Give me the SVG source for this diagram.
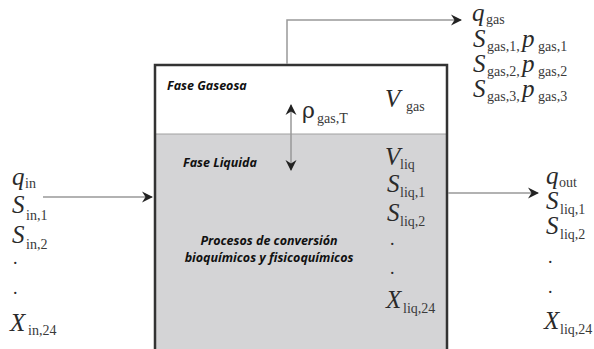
<svg xmlns="http://www.w3.org/2000/svg" width="594" height="349" viewBox="0 0 594 349">
<defs>
<marker id="ah" markerUnits="userSpaceOnUse" markerWidth="12" markerHeight="12" refX="10" refY="6" orient="auto-start-reverse" viewBox="0 0 12 12">
<path d="M0,0.5 L11,6 L0,11.5 L3.5,6 z" fill="#222"/>
</marker>
<style>
.m{font-family:"Liberation Serif",serif;font-style:italic;font-size:25px;fill:#2a2a2a}
.d{font-family:"Liberation Serif",serif;font-size:18px;fill:#2a2a2a}
.s{font-family:"Liberation Serif",serif;font-style:normal;font-size:14px;fill:#3a3a3a}
.lab{font-family:"Open Sans",sans-serif;font-style:italic;font-weight:bold;font-size:12.5px;fill:#111}
.conn{stroke:#999;stroke-width:1.5;fill:none}
.rho{font-family:"DejaVu Serif",serif;font-size:22px;fill:#2a2a2a}
</style>
</defs>
<g id="tank">
<rect x="155" y="65" width="292" height="300" fill="#fff"/>
<rect x="155" y="134" width="292" height="231" fill="#d4d4d6"/>
<line x1="155" y1="134" x2="447" y2="134" stroke="#a0a0a0" stroke-width="1"/>
<path d="M155,365 V65 H447 V365" fill="none" stroke="#333" stroke-width="2.5"/>
<text class="lab" x="167" y="90">Fase Gaseosa</text>
<text class="lab" x="183" y="167">Fase Liquida</text>
<text class="lab" x="269" y="245" text-anchor="middle">Procesos de conversión</text>
<text class="lab" x="269" y="262" text-anchor="middle">bioquímicos y fisicoquímicos</text>
<text class="m" x="385" y="107">V</text><text class="s" x="406" y="111">gas</text>
<text class="m" x="385" y="165">V</text><text class="s" x="400" y="169">liq</text>
<text class="m" x="387" y="192">S</text><text class="s" x="400" y="197">liq,1</text>
<text class="m" x="387" y="221">S</text><text class="s" x="400" y="226">liq,2</text>
<text class="d" x="390" y="245">.</text>
<text class="d" x="390" y="274">.</text>
<text class="m" x="386" y="308">X</text><text class="s" x="403" y="313">liq,24</text>
<text class="rho" x="302" y="118">ρ</text><text class="s" x="317" y="123">gas,T</text>
</g>
<g id="inlet">
<text class="m" x="12" y="185">q</text><text class="s" x="25" y="188">in</text>
<text class="m" x="12" y="213">S</text><text class="s" x="26" y="220">in,1</text>
<text class="m" x="12" y="243">S</text><text class="s" x="26" y="249">in,2</text>
<text class="d" x="13" y="264">.</text>
<text class="d" x="13" y="294">.</text>
<text class="m" x="10" y="331">X</text><text class="s" x="28" y="335">in,24</text>
</g>
<g id="outlet">
<text class="m" x="546" y="184">q</text><text class="s" x="559" y="187">out</text>
<text class="m" x="546" y="209">S</text><text class="s" x="560" y="214">liq,1</text>
<text class="m" x="546" y="234">S</text><text class="s" x="560" y="239">liq,2</text>
<text class="d" x="548" y="263">.</text>
<text class="d" x="548" y="293">.</text>
<text class="m" x="544" y="329">X</text><text class="s" x="560" y="334">liq,24</text>
</g>
<g id="gas">
<text class="m" x="472" y="21">q</text><text class="s" x="486" y="24">gas</text>
<text class="m" x="473" y="47">S</text><text class="s" x="487" y="51">gas,1,</text><text class="m" x="522" y="47">p</text><text class="s" x="538" y="51">gas,1</text>
<text class="m" x="473" y="72">S</text><text class="s" x="487" y="76">gas,2,</text><text class="m" x="522" y="72">p</text><text class="s" x="538" y="76">gas,2</text>
<text class="m" x="473" y="97">S</text><text class="s" x="487" y="101">gas,3,</text><text class="m" x="522" y="97">p</text><text class="s" x="538" y="101">gas,3</text>
</g>
<g id="connectors">
<path class="conn" d="M287,64 V20 H461" marker-end="url(#ah)"/>
<line class="conn" x1="43" y1="197" x2="152" y2="197" marker-end="url(#ah)"/>
<line class="conn" x1="448" y1="193" x2="538" y2="193" marker-end="url(#ah)"/>
<line class="conn" x1="291" y1="105" x2="291" y2="170" marker-start="url(#ah)" marker-end="url(#ah)"/>
</g>
</svg>
